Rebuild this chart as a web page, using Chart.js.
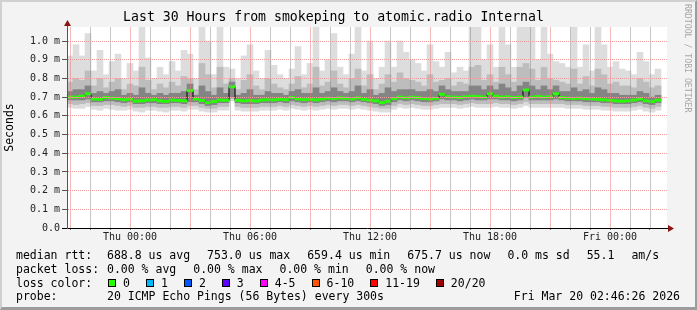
<!DOCTYPE html>
<html>
<head>
<meta charset="utf-8">
<script src="https://cdn.jsdelivr.net/npm/chart.js@4/dist/chart.umd.min.js"></script>
<style>
  html, body { margin: 0; padding: 0; background: #f3f3f3; }
  #marco { position: relative; width: 697px; height: 310px; background: #f3f3f3; overflow: hidden;
           font-family: 'DejaVu Sans Mono', monospace; color: #000; }
  #grafico { position: absolute; left: 0; top: 0; }
  #borde { position: absolute; left: 0; top: 0; width: 697px; height: 310px; box-sizing: border-box;
           border-top: 2px solid #d0d0d0; border-left: 2px solid #d0d0d0;
           border-right: 2px solid #9c9c9c; border-bottom: 3px solid #9c9c9c; pointer-events: none; }
  #credito { position: absolute; left: 683px; top: 4px; writing-mode: vertical-rl; font-size: 8.2px;
             color: #a6a6a6; white-space: nowrap; }
  #leyenda { position: absolute; left: 16px; top: 248px; width: 664px; font-size: 11.5px; white-space: pre; }
  .fila { display: flex; align-items: center; height: 13.8px; }
  .etq { width: 91px; }
  .item { margin-right: 17px; }
  .caja { display: inline-block; width: 6px; height: 6px; border: 1px solid #000; margin: 0 7px 0 1px; }
  .perd { display: flex; align-items: center; margin-right: 15px; }
  .fecha { margin-left: auto; }
</style>
</head>
<body>
<div id="marco">
  <canvas id="grafico" width="697" height="310"></canvas>
  <div id="credito">RRDTOOL / TOBI OETIKER</div>
  <div id="leyenda"></div>
  <div id="borde"></div>
</div>
<script>
// ─── Datos ────────────────────────────────────────
// horas relativas a Thu 00:00; un punto cada 18 min
const startHour = -3.0;
const stepHours = 0.3;

// mediana y humo (ms)
const medianRtt = [
  .700,.700,.705,.718,.690,.688,.698,.695,.692,.686,
  .688,.678,.680,.684,.686,.680,.677,.684,.682,.680,
  .735,.690,.682,.670,.676,.684,.683,.755,.683,.680,
  .682,.679,.684,.686,.685,.688,.686,.698,.690,.686,
  .688,.685,.690,.694,.693,.696,.694,.690,.696,.688,
  .684,.680,.670,.678,.692,.700,.696,.700,.697,.692,
  .690,.694,.715,.702,.700,.698,.702,.705,.703,.700,
  .718,.705,.700,.702,.698,.700,.738,.700,.703,.700,
  .702,.718,.698,.695,.693,.695,.692,.690,.688,.685,
  .683,.680,.678,.680,.684,.690,.680,.676,.684
];
const pingMax = [
  .92,.98,.92,1.04,.84,.95,.82,.89,.93,.80,
  .88,.84,1.10,.91,.80,.86,.82,.89,.84,.95,
  .93,.80,1.10,1.00,.82,1.10,.86,.85,.80,.92,
  .98,.84,.80,.95,.87,.82,.80,.85,.97,.82,
  .88,1.10,.84,.90,1.04,.86,.82,.93,1.10,.84,
  1.00,.80,.86,1.00,.86,1.00,.94,.90,.88,.84,
  .98,.89,.86,.94,.83,.86,.84,1.10,1.10,.90,
  .98,.86,1.10,.98,.86,1.10,1.10,1.10,.90,1.10,
  .93,.89,.88,.86,1.10,.86,.98,.84,1.10,.98,
  .86,.89,.85,.84,.82,.94,.89,.82,.85
];
const pingHi = [
  .78,.80,.79,.84,.76,.80,.75,.78,.80,.74,
  .77,.76,.86,.79,.74,.77,.75,.78,.76,.81,
  .80,.74,.88,.82,.75,.86,.77,.80,.74,.79,
  .82,.76,.74,.80,.77,.75,.74,.77,.81,.75,
  .77,.86,.76,.78,.84,.77,.75,.80,.85,.76,
  .82,.74,.77,.82,.78,.83,.80,.79,.78,.76,
  .82,.78,.79,.80,.76,.78,.77,.86,.87,.79,
  .82,.78,.86,.82,.78,.86,.88,.85,.79,.86,
  .80,.79,.78,.77,.85,.77,.81,.76,.85,.82,
  .77,.78,.76,.76,.75,.80,.78,.75,.76
];
const pingQ3 = [
  .73,.74,.74,.76,.72,.73,.72,.73,.74,.71,
  .72,.71,.75,.72,.71,.72,.71,.72,.72,.73,
  .77,.71,.76,.73,.71,.75,.72,.78,.71,.72,
  .74,.71,.71,.73,.72,.72,.71,.73,.74,.72,
  .72,.75,.72,.73,.75,.73,.72,.73,.76,.72,
  .74,.71,.72,.75,.73,.74,.74,.74,.73,.73,
  .74,.73,.76,.74,.73,.73,.73,.76,.76,.74,
  .76,.74,.77,.75,.73,.76,.78,.76,.74,.76,
  .74,.76,.73,.73,.75,.73,.74,.72,.75,.74,
  .72,.72,.71,.71,.71,.73,.72,.70,.71
];
const pingQ1 = [
  .685,.685,.685,.690,.675,.675,.680,.680,.675,.670,
  .675,.665,.665,.670,.670,.665,.665,.670,.670,.665,
  .675,.675,.665,.655,.660,.670,.670,.700,.670,.665,
  .665,.665,.670,.670,.670,.675,.670,.680,.675,.670,
  .675,.670,.675,.680,.675,.680,.680,.675,.680,.675,
  .670,.665,.655,.660,.675,.685,.680,.685,.680,.675,
  .675,.680,.690,.685,.685,.680,.685,.690,.685,.685,
  .690,.690,.685,.685,.680,.685,.700,.685,.685,.685,
  .685,.690,.685,.680,.680,.680,.675,.675,.675,.670,
  .670,.665,.665,.665,.670,.675,.665,.660,.670
];
const pingLo = [
  .665,.660,.665,.670,.655,.655,.660,.660,.655,.650,
  .655,.645,.645,.650,.650,.645,.645,.650,.650,.645,
  .655,.655,.645,.640,.640,.650,.650,.690,.650,.645,
  .645,.645,.650,.650,.650,.655,.650,.660,.655,.650,
  .655,.650,.655,.660,.655,.660,.660,.655,.660,.655,
  .650,.645,.640,.640,.655,.665,.660,.665,.660,.655,
  .655,.660,.665,.665,.665,.660,.665,.670,.665,.665,
  .665,.670,.665,.665,.660,.665,.675,.665,.665,.665,
  .665,.665,.665,.660,.660,.660,.655,.655,.655,.650,
  .650,.645,.645,.645,.650,.655,.645,.640,.650
];
const pingMin = [
  .645,.640,.640,.650,.635,.630,.640,.635,.630,.630,
  .635,.625,.620,.630,.630,.625,.620,.630,.630,.625,
  .635,.635,.625,.620,.620,.630,.630,.680,.630,.625,
  .625,.625,.630,.630,.630,.635,.630,.640,.635,.630,
  .635,.630,.635,.640,.635,.640,.640,.635,.640,.635,
  .630,.625,.620,.620,.635,.645,.640,.645,.640,.635,
  .635,.640,.645,.645,.645,.640,.645,.650,.645,.645,
  .645,.650,.645,.645,.640,.645,.655,.645,.645,.645,
  .645,.645,.645,.640,.640,.640,.635,.635,.635,.630,
  .630,.625,.625,.625,.630,.635,.625,.620,.630
];

// ejes
const yTickValues = [0, 0.1, 0.2, 0.3, 0.4, 0.5, 0.6, 0.7, 0.8, 0.9, 1.0];
const yTickLabels = ['0.0', '0.1 m', '0.2 m', '0.3 m', '0.4 m', '0.5 m', '0.6 m', '0.7 m', '0.8 m', '0.9 m', '1.0 m'];
const xGridHours  = [-3, -2, -1, 0, 1, 2, 3, 4, 5, 6, 7, 8, 9, 10, 11, 12, 13, 14,
                     15, 16, 17, 18, 19, 20, 21, 22, 23, 24, 25, 26];
const xLabelHours = [0, 6, 12, 18, 24];
const xLabelTexts = ['Thu 00:00', 'Thu 06:00', 'Thu 12:00', 'Thu 18:00', 'Fri 00:00'];

// leyenda
const rttItems   = ['688.8 us avg', '753.0 us max', '659.4 us min', '675.7 us now', '0.0 ms sd', '55.1', 'am/s'];
const lossItems  = ['0.00 % avg', '0.00 % max', '0.00 % min', '0.00 % now'];
const lossLabels = ['0', '1', '2', '3', '4-5', '6-10', '11-19', '20/20'];
const lossColors = ['#26ff00', '#00b8ff', '#0059ff', '#5e00ff', '#ff00ff', '#ff5500', '#ff0000', '#a10000'];
const probeText  = '20 ICMP Echo Pings (56 Bytes) every 300s';
const stampText  = 'Fri Mar 20 02:46:26 2026';

// ─── Helpers ──────────────────────────────────────
const times = medianRtt.map((_, i) => startHour + i * stepHours);
const banda = (lo, hi) => times.map((t, i) => ({ x: t, y: [lo[i], hi[i]] }));
const MONO = "'DejaVu Sans Mono', monospace";
const ROJO = '#f29a9a';
const ROJO_V = 'rgba(235, 120, 120, 0.5)';
const GRIS_V = 'rgba(130, 130, 130, 0.45)';

// ─── Plugins ──────────────────────────────────────
const fondoBlanco = {
  id: 'fondoBlanco',
  beforeDraw(chart) {
    const { ctx, chartArea: a } = chart;
    ctx.save();
    ctx.fillStyle = '#ffffff';
    ctx.fillRect(a.left, a.top, a.right - a.left, a.bottom - a.top);
    ctx.restore();
  }
};

// rejilla vertical por encima del humo
const rejilla = {
  id: 'rejilla',
  afterDatasetsDraw(chart) {
    const ctx = chart.ctx;
    const a = chart.chartArea;
    const sx = chart.scales.x;
    ctx.save();
    for (const h of xGridHours) {
      const px = Math.round(sx.getPixelForValue(h));
      if (!(px >= a.left && px < a.right)) continue;
      ctx.fillStyle = (h % 3 === 0) ? ROJO_V : GRIS_V;
      ctx.fillRect(px, a.top, 1, a.bottom - a.top);
    }
    ctx.restore();
  }
};

const flechas = {
  id: 'flechas',
  afterDraw(chart) {
    const { ctx, chartArea: a } = chart;
    ctx.save();
    ctx.strokeStyle = '#555';
    ctx.beginPath();
    ctx.moveTo(a.left + 0.5, a.top);
    ctx.lineTo(a.left + 0.5, a.top - 4);
    ctx.stroke();
    ctx.strokeStyle = '#000';
    ctx.beginPath();
    ctx.moveTo(a.left - 5, a.bottom + 0.5);
    ctx.lineTo(a.left, a.bottom + 0.5);
    ctx.moveTo(a.right, a.bottom + 0.5);
    ctx.lineTo(a.right + 3, a.bottom + 0.5);
    ctx.stroke();
    ctx.fillStyle = '#8b1414';
    ctx.beginPath();
    ctx.moveTo(a.left + 0.5, a.top - 7);
    ctx.lineTo(a.left - 3, a.top - 1);
    ctx.lineTo(a.left + 4, a.top - 1);
    ctx.closePath();
    ctx.fill();
    ctx.beginPath();
    ctx.moveTo(a.right + 7, a.bottom + 0.5);
    ctx.lineTo(a.right + 1, a.bottom - 3);
    ctx.lineTo(a.right + 1, a.bottom + 4);
    ctx.closePath();
    ctx.fill();
    ctx.restore();
  }
};

// ─── Gráfico ──────────────────────────────────────
const barra = (data, color, order) => ({
  type: 'bar', data, backgroundColor: color, borderWidth: 0, grouped: false,
  barPercentage: 1, categoryPercentage: 1, order
});

new Chart(document.getElementById('grafico').getContext('2d'), {
  type: 'bar',
  data: {
    datasets: [
      barra(banda(pingMin, pingMax), '#dddddd', 6),
      barra(banda(pingLo, pingHi), '#bdbdbd', 5),
      barra(banda(pingQ1, pingQ3), '#848484', 4),
      {
        type: 'line', data: times.map((t, i) => ({ x: t, y: medianRtt[i] })),
        borderColor: '#000', borderWidth: 1, pointRadius: 0, stepped: 'middle', order: 2
      },
      barra(times.map((t, i) => ({ x: t, y: [medianRtt[i] - 0.006, medianRtt[i] + 0.006] })), '#26ff00', 1)
    ]
  },
  options: {
    responsive: false,
    animation: false,
    layout: { padding: { left: 0, right: 30, top: 0, bottom: 0 } },
    plugins: {
      legend: { display: false },
      tooltip: { enabled: false },
      title: {
        display: true,
        text: 'Last 30 Hours from smokeping to atomic.radio Internal',
        color: '#000',
        font: { family: MONO, size: 13.2, weight: 'normal', lineHeight: '16px' },
        padding: { top: 10, bottom: 1 }
      }
    },
    scales: {
      x: {
        type: 'linear',
        min: -3.15,
        max: 26.85,
        offset: false,
        afterFit: s => { s.height = 82; },
        afterBuildTicks: s => { s.ticks = xGridHours.map(h => ({ value: h })); },
        grid: {
          offset: false,
          drawOnChartArea: false,
          drawTicks: true,
          tickLength: 2,
          tickColor: '#777'
        },
        border: { display: true, color: '#000', width: 1, z: 2 },
        ticks: {
          autoSkip: false,
          maxRotation: 0,
          padding: 1,
          color: '#222',
          font: { family: MONO, size: 10 },
          callback: (v, i) => {
            const k = xLabelHours.indexOf(xGridHours[i]);
            return k >= 0 ? xLabelTexts[k] : '';
          }
        }
      },
      y: {
        type: 'linear',
        min: 0,
        max: 1.075,
        afterFit: s => { s.width = 67; },
        afterBuildTicks: s => { s.ticks = yTickValues.map(v => ({ value: v })); },
        grid: {
          z: 1,
          color: ROJO,
          lineWidth: 1,
          drawTicks: true,
          tickLength: 5,
          tickColor: '#555'
        },
        border: { display: true, color: '#555', width: 1, dash: [1, 1], z: 2 },
        title: {
          display: true,
          text: 'Seconds',
          color: '#000',
          font: { family: MONO, size: 11.5 },
          padding: { top: 3, bottom: 0 }
        },
        ticks: {
          padding: 2,
          color: '#222',
          font: { family: MONO, size: 10 },
          callback: (v, i) => yTickLabels[i]
        }
      }
    }
  },
  plugins: [fondoBlanco, rejilla, flechas]
});

// ─── Leyenda ──────────────────────────────────────
function fila(etiqueta) {
  const f = document.createElement('div');
  f.className = 'fila';
  const e = document.createElement('span');
  e.className = 'etq';
  e.textContent = etiqueta;
  f.appendChild(e);
  document.getElementById('leyenda').appendChild(f);
  return f;
}
function texto(padre, t, clase) {
  const s = document.createElement('span');
  if (clase) s.className = clase;
  s.textContent = t;
  padre.appendChild(s);
  return s;
}

const f1 = fila('median rtt:');
rttItems.forEach(t => texto(f1, t, 'item'));
const f2 = fila('packet loss:');
lossItems.forEach(t => texto(f2, t, 'item'));
const f3 = fila('loss color:');
lossLabels.forEach((t, i) => {
  const it = document.createElement('span');
  it.className = 'perd';
  const c = document.createElement('span');
  c.className = 'caja';
  c.style.background = lossColors[i];
  it.appendChild(c);
  texto(it, t);
  f3.appendChild(it);
});
const f4 = fila('probe:');
texto(f4, probeText);
texto(f4, stampText, 'fecha');
</script>
</body>
</html>
